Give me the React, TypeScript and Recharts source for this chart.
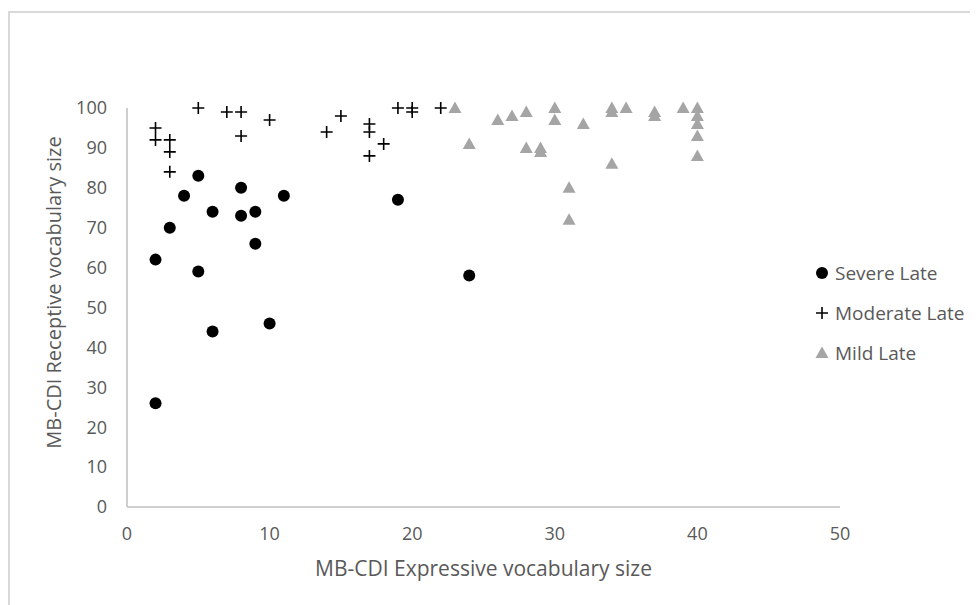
import { ScatterChart, Scatter, XAxis, YAxis } from 'recharts';

// MB-CDI scores: [expressive, receptive]
const severeLate = [
  [2, 62], [2, 26], [3, 70], [4, 78], [5, 83], [5, 59], [6, 74], [6, 44],
  [8, 80], [8, 73], [9, 74], [9, 66], [10, 46], [11, 78], [19, 77], [24, 58],
];
const moderateLate = [
  [2, 95], [2, 92], [3, 92], [3, 89], [3, 84], [5, 100], [7, 99], [8, 99],
  [8, 93], [10, 97], [14, 94], [15, 98], [17, 96], [17, 94], [17, 88], [18, 91],
  [19, 100], [20, 100], [20, 99], [22, 100],
];
const mildLate = [
  [23, 100], [24, 91], [26, 97], [27, 98], [28, 99], [28, 90], [29, 90], [29, 89],
  [30, 100], [30, 97], [31, 80], [31, 72], [32, 96], [34, 100], [34, 99], [34, 86],
  [35, 100], [37, 99], [37, 98], [39, 100], [40, 100], [40, 98], [40, 96], [40, 93], [40, 88],
];
const xTicks = [0, 10, 20, 30, 40, 50];
const yTicks = [0, 10, 20, 30, 40, 50, 60, 70, 80, 90, 100];

const toPoints = (rows: number[][]) => rows.map(([x, y]) => ({ x, y }));

const FONT = '"Open Sans", "Noto Sans", sans-serif';
const TEXT = '#595959';
const AXIS = '#bfbfbf';
const GREY = '#a5a5a5';

const Dot = ({ cx, cy }: any) => <circle cx={cx} cy={cy} r={6} fill="#000" />;
const Plus = ({ cx, cy }: any) => (
  <path d={`M${cx - 6},${cy}H${cx + 6}M${cx},${cy - 6}V${cy + 6}`} stroke="#000" strokeWidth={1.6} />
);
const Tri = ({ cx, cy }: any) => (
  <path d={`M${cx},${cy - 6.5}L${cx + 6.5},${cy + 5}L${cx - 6.5},${cy + 5}Z`} fill={GREY} />
);

const series = [
  { name: 'Severe Late', data: severeLate, shape: Dot },
  { name: 'Moderate Late', data: moderateLate, shape: Plus },
  { name: 'Mild Late', data: mildLate, shape: Tri },
];

const tick = { fill: TEXT, fontSize: 18, fontFamily: FONT };

export default function App() {
  return (
    <div style={{ position: 'relative', width: 970, height: 597, overflow: 'hidden', fontFamily: FONT }}>
      <div style={{
        position: 'absolute', left: 0, top: 3, width: 1000, height: 1000,
        borderLeft: '2px solid #d9d9d9', borderTop: '2px solid #d9d9d9',
      }} />
      <ScatterChart width={962} height={597} margin={{ top: 100, right: 130, bottom: 18, left: 0 }}>
        <XAxis
          type="number"
          dataKey="x"
          domain={[0, 50]}
          ticks={xTicks}
          tickLine={false}
          axisLine={{ stroke: AXIS, strokeWidth: 1.5 }}
          tick={tick}
          tickMargin={14}
          height={80}
          label={{
            value: 'MB-CDI Expressive vocabulary size',
            position: 'insideBottom',
            offset: 11,
            fill: TEXT,
            fontSize: 21,
            fontFamily: FONT,
          }}
        />
        <YAxis
          type="number"
          dataKey="y"
          domain={[0, 100]}
          ticks={yTicks}
          tickLine={false}
          axisLine={{ stroke: AXIS, strokeWidth: 1.5 }}
          tick={tick}
          tickMargin={14}
          width={119}
          label={{
            value: 'MB-CDI Receptive vocabulary size',
            angle: -90,
            position: 'insideLeft',
            offset: 46,
            dy: -15,
            fill: TEXT,
            fontSize: 20,
            fontFamily: FONT,
            style: { textAnchor: 'middle' },
          }}
        />
        {series.map((s) => (
          <Scatter
            key={s.name}
            name={s.name}
            data={toPoints(s.data)}
            shape={s.shape}
            isAnimationActive={false}
          />
        ))}
      </ScatterChart>
      <div style={{ position: 'absolute', left: 806, top: 245, color: TEXT, fontSize: 19, lineHeight: '40px' }}>
        {series.map((s) => {
          const Shape = s.shape;
          return (
            <div key={s.name} style={{ display: 'flex', alignItems: 'center', height: 40 }}>
              <svg width={16} height={16} style={{ marginRight: 5 }}>
                <Shape cx={8} cy={8} />
              </svg>
              <span>{s.name}</span>
            </div>
          );
        })}
      </div>
    </div>
  );
}
